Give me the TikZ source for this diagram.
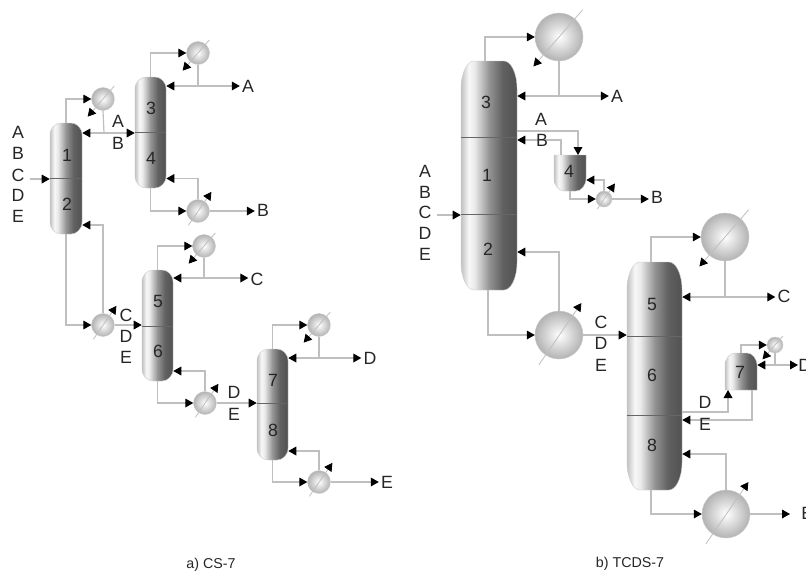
\documentclass[tikz,border=0pt]{standalone}
\usepackage{fontspec}
\setmainfont{Liberation Sans}
\usetikzlibrary{arrows.meta,calc}
\pgfdeclarehorizontalshading{colshade}{100bp}{
 color(0bp)=(black!24);
 color(25bp)=(black!24);
 color(32bp)=(black!3);
 color(37bp)=(black!8);
 color(50bp)=(black!42);
 color(62bp)=(black!62);
 color(75bp)=(black!68);
 color(100bp)=(black!68)}
\tikzset{
 x=0.75pt,y=-0.75pt,
 flow/.style={draw=black!25,line width=0.9pt},
 tip/.style={-{Triangle[length=6pt,width=6.5pt,color=black]}},
 tipboth/.style={{Triangle[length=6pt,width=6.5pt,color=black]}-{Triangle[length=6pt,width=6.5pt,color=black]}},
 divider/.style={draw=black!60,line width=0.7pt},
 hxslash/.style={draw=black!25,line width=0.6pt},
 lbl/.style={font=\fontsize{13.3pt}{15pt}\selectfont,text=black!85,inner sep=1.5pt},
 captxt/.style={font=\fontsize{10.7pt}{13pt}\selectfont,text=black!85,inner sep=0pt},
 hxball/.style={circle,inner sep=0pt,draw=black!20,line width=0.3pt,inner color=white,outer color=black!30},
}
% name, xl, xr, yt, yb, top cap w, top cap h, bottom cap w, bottom cap h
\newcommand{\vessel}[9]{%
 \node[inner sep=0pt,minimum width={(#3-#2)*0.75pt},minimum height={(#5-#4)*0.75pt}] (#1) at ({(#2+#3)/2},{(#4+#5)/2}) {};
 \shade[shading=colshade,draw=black!20,line width=0.3pt]
  (#2,#4+#7) .. controls (#2,#4+0.4*#7) and (#2+0.5*#6,#4) .. (#2+#6,#4)
  -- (#3-#6,#4) .. controls (#3-0.5*#6,#4) and (#3,#4+0.4*#7) .. (#3,#4+#7)
  -- (#3,#5-#9) .. controls (#3,#5-0.4*#9) and (#3-0.5*#8,#5) .. (#3-#8,#5)
  -- (#2+#8,#5) .. controls (#2+0.5*#8,#5) and (#2,#5-0.4*#9) .. (#2,#5-#9) -- cycle;
}
% name, x, y, r : condenser
\newcommand{\cond}[4]{%
 \node[hxball,minimum size={#4*1.5pt}] (#1) at (#2,#3) {};
 \draw[hxslash,tip] ($(#1)+(-49:{1.5*#4})$) -- ($(#1)+(131:{1.25*#4+9})$);
}
% name, x, y, r : reboiler
\newcommand{\reb}[4]{%
 \node[hxball,minimum size={#4*1.5pt}] (#1) at (#2,#3) {};
 \draw[hxslash,tip] ($(#1)+(124:{1.5*#4})$) -- ($(#1)+(-55:{1.25*#4+9})$);
}
\begin{document}
\begin{tikzpicture}
\useasboundingbox (0,0) rectangle (806,575);
\fill[white] (0,0) rectangle (806,575);

% ---------- a) CS-7 ----------
\vessel{c1}{50}{82}{123}{234}{11}{12}{11}{12}
\vessel{c3}{135}{166}{77}{188}{11}{12}{11}{12}
\vessel{c5}{142}{173}{270}{381}{11}{12}{11}{12}
\vessel{c7}{257}{288}{349}{460}{11}{12}{11}{12}
\draw[divider] (c1.west |- 0,178.5) -- (c1.east |- 0,178.5);
\draw[divider] (c3.west |- 0,132.5) -- (c3.east |- 0,132.5);
\draw[divider] (c5.west |- 0,326) -- (c5.east |- 0,326);
\draw[divider] (c7.west |- 0,403) -- (c7.east |- 0,403);
\node[lbl] (n1) at (67,155) {1};
\node[lbl] (n2) at (67,204) {2};
\node[lbl] (n3) at (151,108) {3};
\node[lbl] (n4) at (151,158) {4};
\node[lbl] (n5) at (158,301) {5};
\node[lbl] (n6) at (158,351) {6};
\node[lbl] (n7) at (273,380) {7};
\node[lbl] (n8) at (273,430) {8};

\cond{ca1}{103}{99}{11.5}
\reb{ra1}{103}{325}{11.5}
\cond{ca3}{198}{53}{11.5}
\reb{ra3}{198}{211}{11.5}
\cond{ca5}{204}{246}{11.5}
\reb{ra5}{205}{403}{11.5}
\cond{ca7}{319}{325}{11.5}
\reb{ra7}{319}{482}{11.5}

\node[lbl] (fa) at (18,132) {A};
\node[lbl] (fb) at (18,153) {B};
\node[lbl] (fc) at (18,175) {C};
\node[lbl] (fd) at (18,195) {D};
\node[lbl] (fe) at (18,216) {E};
\coordinate (feedA) at (30,179);
\draw[flow,tip] (feedA) -- (feedA -| c1.west);

\draw[flow,tip] (c1.north) |- (ca1.west);
\coordinate (j1) at (104,133);
\draw[flow] (ca1.south) -- (j1);
\draw[flow,tipboth] (c1.east |- j1) -- (c3.west |- j1);
\node[lbl] (a13) at (118,121) {A};
\node[lbl] (b13) at (118,143) {B};

\draw[flow,tip] (c3.north) |- (ca3.west);
\coordinate (j3) at (198,86);
\draw[flow] (ca3.south) -- (j3);
\node[lbl] (outA) at (248,86) {A};
\draw[flow,tipboth] (c3.east |- j3) -- (outA.west);

\draw[flow,tip] (c3.south) |- (ra3.west);
\coordinate (j4) at (198,178.5);
\draw[flow,tip] (ra3.north) -- (j4) -- (j4 -| c3.east);
\node[lbl] (outB) at (263,210) {B};
\draw[flow,tip] (ra3.east) -- (outB.west |- ra3.east);

\draw[flow,tip] (c1.south) |- (ra1.west);
\coordinate (j2) at (103,225);
\draw[flow,tip] (ra1.north) -- (j2) -- (j2 -| c1.east);
\draw[flow,tip] (ra1.east) -- (ra1.east -| c5.west);
\node[lbl] (c25) at (126,315) {C};
\node[lbl] (d25) at (126,336) {D};
\node[lbl] (e25) at (126,357) {E};

\draw[flow,tip] (c5.north) |- (ca5.west);
\coordinate (j5) at (204,278);
\draw[flow] (ca5.south) -- (j5);
\node[lbl] (outC) at (257,279) {C};
\draw[flow,tipboth] (c5.east |- j5) -- (outC.west |- j5);

\draw[flow,tip] (c5.south) |- (ra5.west);
\coordinate (j6) at (205,371);
\draw[flow,tip] (ra5.north) -- (j6) -- (j6 -| c5.east);
\draw[flow,tip] (ra5.east) -- (ra5.east -| c7.west);
\node[lbl] (d57) at (234,392) {D};
\node[lbl] (e57) at (234,414) {E};

\draw[flow,tip] (c7.north) |- (ca7.west);
\coordinate (j7) at (319,358);
\draw[flow] (ca7.south) -- (j7);
\node[lbl] (outD) at (370,358) {D};
\draw[flow,tipboth] (c7.east |- j7) -- (outD.west |- j7);

\draw[flow,tip] (c7.south) |- (ra7.west);
\coordinate (j8) at (319,451);
\draw[flow,tip] (ra7.north) -- (j8) -- (j8 -| c7.east);
\node[lbl] (outE) at (387,482) {E};
\draw[flow,tip] (ra7.east) -- (outE.west |- ra7.east);

\node[captxt] (capa) at (211,565) {a) CS-7};

% ---------- b) TCDS-7 ----------
\vessel{T1}{461}{517}{61}{290}{13}{28}{13}{28}
\vessel{T5}{627}{682}{262}{490}{13}{28}{13}{28}
\vessel{T4}{554}{586}{155}{191}{0}{0}{10}{13}
\vessel{T7}{725}{757}{353}{390}{10}{13}{0}{0}
\draw[divider] (T1.west |- 0,137) -- (T1.east |- 0,137);
\draw[divider] (T1.west |- 0,214.5) -- (T1.east |- 0,214.5);
\draw[divider] (T5.west |- 0,336) -- (T5.east |- 0,336);
\draw[divider] (T5.west |- 0,415) -- (T5.east |- 0,415);
\node[lbl] (m3) at (486,102) {3};
\node[lbl] (m1) at (487,175) {1};
\node[lbl] (m2) at (488,249) {2};
\node[lbl] (m4) at (569,171) {4};
\node[lbl] (m5) at (652,304) {5};
\node[lbl] (m6) at (652,375) {6};
\node[lbl] (m8) at (652,445) {8};
\node[lbl] (m7) at (740,372) {7};

\cond{Tc1}{559}{37}{24}
\reb{Tr1}{559}{335}{24}
\reb{Tr4}{604}{199}{8}
\cond{Tc5}{725}{237}{24}
\cond{Tc7}{775}{345}{8}
\reb{Tr5}{726}{514}{24}

\node[lbl] (ga) at (425,171) {A};
\node[lbl] (gb) at (425,192) {B};
\node[lbl] (gc) at (425,212) {C};
\node[lbl] (gd) at (425,233) {D};
\node[lbl] (ge) at (425,254) {E};
\coordinate (feedB) at (437,215);
\draw[flow,tip] (feedB) -- (feedB -| T1.west);

\coordinate (s1) at (485,61);
\draw[flow,tip] (s1) |- (Tc1.west);
\coordinate (k1) at (559,96);
\draw[flow] (Tc1.south) -- (k1);
\node[lbl] (TA) at (617,96) {A};
\draw[flow,tipboth] (T1.east |- k1) -- (TA.west |- k1);

\coordinate (k2) at (578,131);
\coordinate (k2t) at (578,155);
\draw[flow,tip] (T1.east |- k2) -- (k2) -- (k2t);
\coordinate (k3) at (561,140);
\coordinate (k3b) at (561,155);
\draw[flow,tip] (k3b) -- (k3) -- (k3 -| T1.east);
\node[lbl] (TAa) at (541,119) {A};
\node[lbl] (TBb) at (542,140) {B};

\draw[flow,tip] (T4.south) |- (Tr4.west);
\coordinate (k4) at (604,180);
\draw[flow,tip] (Tr4.north) -- (k4) -- (k4 -| T4.east);
\node[lbl] (TB) at (657,197) {B};
\draw[flow,tip] (Tr4.east) -- (TB.west |- Tr4.east);

\coordinate (s2) at (488,290);
\draw[flow,tip] (s2) |- (Tr1.west);
\coordinate (k5) at (559,252);
\draw[flow,tip] (Tr1.north) -- (k5) -- (k5 -| T1.east);
\draw[flow,tip] (Tr1.east) -- (Tr1.east -| T5.west);
\node[lbl] (Cc) at (601,322) {C};
\node[lbl] (Dd) at (601,343) {D};
\node[lbl] (Ee) at (601,365) {E};

\coordinate (s5) at (651,262);
\draw[flow,tip] (s5) |- (Tc5.west);
\coordinate (k6) at (725,297);
\draw[flow] (Tc5.south) -- (k6);
\node[lbl] (TC) at (784,296) {C};
\draw[flow,tipboth] (T5.east |- k6) -- (TC.west |- k6);

\draw[flow,tip] (T7.north) |- (Tc7.west);
\coordinate (k7) at (775,365);
\draw[flow] (Tc7.south) -- (k7);
\node[lbl,anchor=west,inner sep=0pt] (TD) at (798,365) {D};
\draw[flow,tipboth] (T7.east |- k7) -- (TD.west |- k7);

\coordinate (k8) at (728,412);
\coordinate (k8t) at (728,390);
\draw[flow,tip] (T5.east |- k8) -- (k8) -- (k8t);
\coordinate (k9) at (752,420);
\coordinate (k9b) at (752,390);
\draw[flow,tip] (k9b) -- (k9) -- (k9 -| T5.east);
\node[lbl] (Dx) at (705,402) {D};
\node[lbl] (Ex) at (705,424) {E};

\coordinate (s8) at (651,490);
\draw[flow,tip] (s8) |- (Tr5.west);
\coordinate (k10) at (726,454);
\draw[flow,tip] (Tr5.north) -- (k10) -- (k10 -| T5.east);
\node[lbl,anchor=west,inner sep=0pt] (TE) at (801,513) {E};
\coordinate (k11) at (790,514);
\draw[flow,tip] (Tr5.east) -- (k11);

\node[captxt] (capb) at (630,564) {b) TCDS-7};
\end{tikzpicture}
\end{document}
